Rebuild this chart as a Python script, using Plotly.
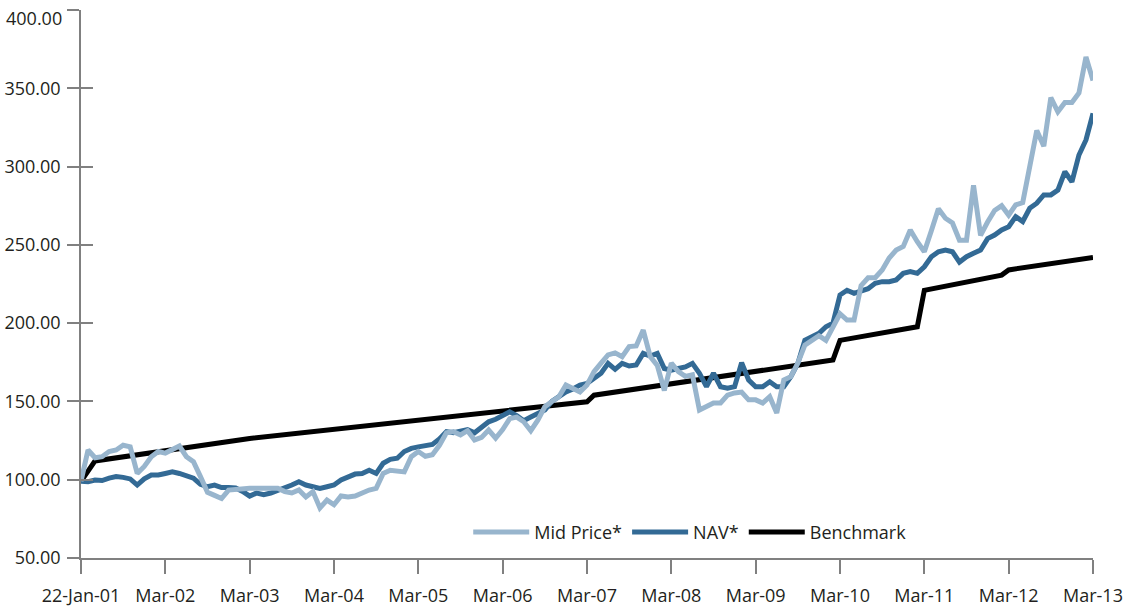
import plotly.graph_objects as go

tick_labels = ["22-Jan-01", "Mar-02", "Mar-03", "Mar-04", "Mar-05", "Mar-06", "Mar-07",
               "Mar-08", "Mar-09", "Mar-10", "Mar-11", "Mar-12", "Mar-13"]
tick_months = [0, 12, 24, 36, 48, 60, 72, 84, 96, 108, 120, 132, 144]
y_ticks = [50, 100, 150, 200, 250, 300, 350, 400]

mid_price = [
    99, 119, 114, 114.7, 118, 119, 122, 121, 104, 108.5,
    114.7, 118, 117, 119, 121.5, 114.7, 111.5, 102, 92, 90,
    88, 93.4, 94, 94.5, 94.5, 94.5, 94.5, 94.5, 94.5, 92.4,
    91.5, 93.4, 89, 92.4, 82, 87, 84, 89.6, 89, 89.6,
    91.7, 93.4, 94.5, 104, 106, 105.5, 105, 114.7, 118, 115,
    116, 122, 130, 130.7, 128.6, 131.3, 125.4, 127, 131.7, 126.5,
    132, 139, 140, 137, 131.3, 138, 146.6, 150, 153, 160.5,
    158, 156, 160.5, 169, 174.5, 179.7, 181, 178.6, 185, 185.4,
    195.6, 178.6, 173, 157, 174.5, 169, 166, 167, 144.5, 146.5,
    149, 149, 154, 155.4, 156, 151, 151, 149, 153, 142.6,
    163.7, 165.8, 174.5, 186, 189, 192, 189, 198, 206, 202,
    202, 224, 229, 229, 234, 241.6, 246.7, 249, 259.5, 252,
    245.6, 259, 273, 267, 264, 253, 253, 288, 256, 264.6,
    272, 275, 269, 275.5, 277, 300, 323, 313, 344, 335,
    341, 341, 347, 370, 355,
]

nav = [
    99, 98.7, 99.8, 99.5, 101, 102, 101.5, 100.5, 96.6, 100.5,
    103, 103, 104, 105, 104, 102.5, 101, 97, 95.5, 96.6,
    95, 95, 94.7, 92.5, 89.5, 91.5, 90.5, 91.5, 93, 94.5,
    96.6, 98.7, 96.6, 95.5, 94.5, 95.5, 96.6, 99.8, 102, 103.6,
    104, 106, 104, 110.5, 113, 113.7, 118, 120, 121, 122,
    122.5, 126, 130.7, 130, 131, 132, 130, 134, 137, 138.6,
    141, 143.4, 141, 137.7, 140, 142, 144.5, 150, 153, 156,
    158, 160.5, 161.5, 164.8, 168, 174.3, 170.5, 174.3, 172.6, 173.3,
    180.7, 179, 180.7, 171, 170, 171, 172, 174.3, 168, 159.4,
    168, 159.4, 158.4, 159.4, 174.7, 163.7, 159.4, 159.4, 162.6, 159.4,
    159.4, 165.8, 174.3, 189, 191, 193.5, 197.7, 200, 218, 221,
    219, 220.5, 222, 225.5, 226.5, 226.5, 227.6, 231.8, 233, 231.8,
    236, 242.4, 245.6, 246.7, 245.6, 239, 242.4, 244.6, 246.7, 254,
    256.3, 259.5, 261.6, 268, 264.9, 273.4, 276.6, 281.9, 281.9, 285,
    296.7, 290.3, 307.4, 317, 334,
]

bench_months = [0, 2, 24, 36, 49, 72, 73, 107, 108, 119, 120, 131, 132, 144]
bench_values = [99, 112, 126.3, 132.2, 138, 149.8, 154, 176.5, 189, 197.7, 221, 230.7, 234, 242]

months = list(range(len(mid_price)))

C_MID = "#98B5CD"
C_NAV = "#336A95"
C_BEN = "#000000"
AX = "#808080"
TXT = "#231F20"
FONT = "Open Sans"
LW = 5

# the top label sits just below its tick in the reference (it would be cut off otherwise)
y_ticktext = [f"{v:.2f}" for v in y_ticks[:-1]] + [""]

fig = go.Figure()
fig.add_trace(go.Scatter(x=bench_months, y=bench_values, mode="lines", name="Benchmark",
                         line=dict(color=C_BEN, width=LW), legendrank=3))
fig.add_trace(go.Scatter(x=months[:len(nav)], y=nav, mode="lines", name="NAV*",
                         line=dict(color=C_NAV, width=LW), legendrank=2))
fig.add_trace(go.Scatter(x=months, y=mid_price, mode="lines", name="Mid Price*",
                         line=dict(color=C_MID, width=LW), legendrank=1))
# invisible trace on overlay axis so the inward half of the y ticks is drawn
fig.add_trace(go.Scatter(x=[0], y=[50], yaxis="y2", mode="markers",
                         marker=dict(opacity=0), showlegend=False, hoverinfo="skip"))

fig.add_annotation(text=f"{y_ticks[-1]:.2f}", xref="paper", yref="y", x=0, y=y_ticks[-1],
                   xanchor="right", yanchor="middle", xshift=-17, yshift=-8,
                   showarrow=False, font=dict(family=FONT, size=18, color=TXT))

fig.update_layout(
    width=1129, height=607,
    margin=dict(l=81, r=36, t=10, b=49, autoexpand=False),
    paper_bgcolor="white", plot_bgcolor="white",
    font=dict(family=FONT, size=18, color=TXT),
    showlegend=True,
    legend=dict(orientation="h", x=0.602, xanchor="center", y=0.047, yanchor="middle",
                font=dict(family=FONT, size=18, color=TXT), bgcolor="rgba(0,0,0,0)",
                traceorder="normal", itemwidth=56),
    xaxis=dict(range=[0, 144], tickvals=tick_months, ticktext=tick_labels,
               showgrid=False, zeroline=False, showline=True, linecolor=AX, linewidth=1.5,
               ticks="outside", ticklen=14, tickwidth=1.5, tickcolor=AX,
               ticklabelstandoff=7, ticklabeloverflow="allow", automargin=False,
               tickfont=dict(family=FONT, size=18, color=TXT)),
    yaxis=dict(range=[50, 400], tickvals=y_ticks, ticktext=y_ticktext,
               showgrid=False, zeroline=False, showline=True,
               linecolor=AX, linewidth=1.5, ticks="outside", ticklen=12, tickwidth=1.5,
               tickcolor=AX, ticklabelstandoff=3, ticklabeloverflow="allow", automargin=False,
               tickfont=dict(family=FONT, size=18, color=TXT)),
    yaxis2=dict(range=[50, 400], overlaying="y", side="left",
                tickvals=y_ticks, automargin=False,
                showticklabels=False, showgrid=False, zeroline=False, showline=False,
                ticks="inside", ticklen=12, tickwidth=1.5, tickcolor=AX),
)

fig.write_html("out.html")
